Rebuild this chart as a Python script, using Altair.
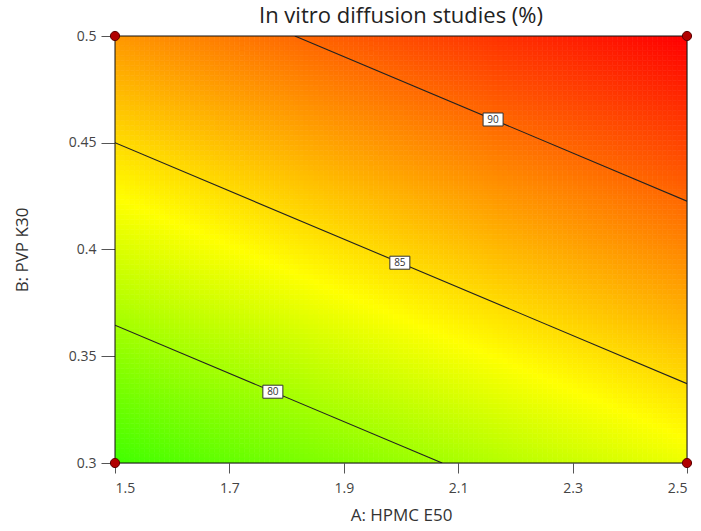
import numpy as np
import pandas as pd
import altair as alt

# Axis ticks
a_ticks = [1.5, 1.7, 1.9, 2.1, 2.3, 2.5]
b_ticks = [0.3, 0.35, 0.4, 0.45, 0.5]

# Fitted linear response for in vitro diffusion (%)
intercept = 48.775
coef_a = 6.6     # HPMC E50
coef_b = 58.5    # PVP K30

# Contour levels and where their labels sit along A
levels = [80, 85, 90]
label_a = [1.776, 1.998, 2.161]

# Design points at the corners of the region
corner_a = [1.5, 2.5, 1.5, 2.5]
corner_b = [0.3, 0.3, 0.5, 0.5]

a_min, a_max = 1.5, 2.5
b_min, b_max = 0.3, 0.5


def response(a, b):
    return intercept + coef_a * a + coef_b * b


# Shaded surface built from small cells
na, nb = 115, 86
a_edges = np.linspace(a_min, a_max, na + 1)
b_edges = np.linspace(b_min, b_max, nb + 1)
A0, B0 = np.meshgrid(a_edges[:-1], b_edges[:-1])
A1, B1 = np.meshgrid(a_edges[1:], b_edges[1:])
surface = pd.DataFrame({
    "a": A0.ravel(), "a2": A1.ravel(),
    "b": B0.ravel(), "b2": B1.ravel(),
})
surface["z"] = response((surface["a"] + surface["a2"]) / 2,
                        (surface["b"] + surface["b2"]) / 2)

# Contour lines clipped to the design region
rows = []
for lv in levels:
    lo = max(a_min, (lv - intercept - coef_b * b_max) / coef_a)
    hi = min(a_max, (lv - intercept - coef_b * b_min) / coef_a)
    for a in (lo, hi):
        rows.append({"level": lv, "a": a, "b": (lv - intercept - coef_a * a) / coef_b})
contours = pd.DataFrame(rows)

labels = pd.DataFrame({
    "level": levels,
    "a": label_a,
    "b": [(lv - intercept - coef_a * a) / coef_b for lv, a in zip(levels, label_a)],
})
labels["text"] = labels["level"].astype(str)

corners = pd.DataFrame({"a": corner_a, "b": corner_b})
frame = pd.DataFrame({"a": [a_min], "a2": [a_max], "b": [b_min], "b2": [b_max]})

x_scale = alt.Scale(domain=[a_min, a_max], nice=False, zero=False)
y_scale = alt.Scale(domain=[b_min, b_max], nice=False, zero=False)
color_scale = alt.Scale(domain=[76.2, 83.5, 94.5],
                        range=["#40ff00", "#ffff00", "#ff0000"],
                        interpolate="rgb")

x_axis = alt.Axis(values=a_ticks, format=".1f", title="A: HPMC E50",
                  tickSize=10, tickColor="#555", labelColor="#444",
                  labelFontSize=14, labelPadding=8, titleFontSize=17,
                  titleFontWeight="normal", titleColor="#333", titlePadding=12,
                  domain=False, grid=False, labelFont="Open Sans", titleFont="Open Sans")
y_axis = alt.Axis(values=b_ticks, labelExpr="toString(datum.value)", title="B: PVP K30",
                  tickSize=14, tickColor="#555", labelColor="#444",
                  labelFontSize=14, labelPadding=5, titleFontSize=17,
                  titleFontWeight="normal", titleColor="#333", titlePadding=37,
                  domain=False, grid=False, labelFont="Open Sans", titleFont="Open Sans")

cells = alt.Chart(surface).mark_rect(clip=True, strokeWidth=0.6).encode(
    x=alt.X("a:Q", scale=x_scale, axis=x_axis),
    x2="a2:Q",
    y=alt.Y("b:Q", scale=y_scale, axis=y_axis),
    y2="b2:Q",
    fill=alt.Fill("z:Q", scale=color_scale, legend=None),
    stroke=alt.Stroke("z:Q", scale=color_scale, legend=None),
)

lines = alt.Chart(contours).mark_line(color="#222", strokeWidth=1.1, clip=True).encode(
    x=alt.X("a:Q", scale=x_scale),
    y=alt.Y("b:Q", scale=y_scale),
    detail="level:N",
)

boxes = alt.Chart(labels).mark_rect(width=20, height=13, fill="white",
                                     stroke="#333", strokeWidth=1).encode(
    x=alt.X("a:Q", scale=x_scale),
    y=alt.Y("b:Q", scale=y_scale),
)

texts = alt.Chart(labels).mark_text(fontSize=10, color="#333", font="Open Sans",
                                     dy=0.5).encode(
    x=alt.X("a:Q", scale=x_scale),
    y=alt.Y("b:Q", scale=y_scale),
    text="text:N",
)

border = alt.Chart(frame).mark_rect(fill=None, stroke="#111", strokeWidth=1).encode(
    x=alt.X("a:Q", scale=x_scale),
    x2="a2:Q",
    y=alt.Y("b:Q", scale=y_scale),
    y2="b2:Q",
)

dots = alt.Chart(corners).mark_point(filled=True, size=85, fill="#b00000",
                                      stroke="#5a0000", strokeWidth=1,
                                      opacity=1, clip=False).encode(
    x=alt.X("a:Q", scale=x_scale),
    y=alt.Y("b:Q", scale=y_scale),
)

chart = alt.layer(cells, lines, boxes, texts, border, dots).properties(
    width=572,
    height=427,
    title=alt.TitleParams("In vitro diffusion studies (%)", fontSize=22,
                          fontWeight="normal", font="Open Sans", color="#222",
                          offset=1),
    autosize=alt.AutoSizeParams(type="none"),
    padding={"left": 115, "top": 36, "right": 14, "bottom": 68},
).configure_view(stroke=None).configure(background="white")

chart.save("out.html", embed_options={"renderer": "svg", "actions": False})
